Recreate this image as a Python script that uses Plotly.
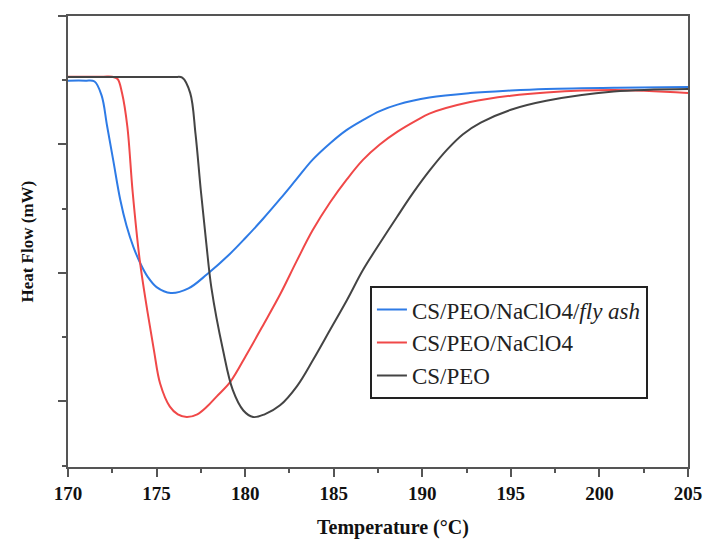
import plotly.graph_objects as go

# DSC curves (temperature in degC, heat flow in arbitrary units)
blue_t = [170.0, 171.0, 171.5, 171.9, 172.2, 172.55, 172.95, 173.3, 173.7, 174.1, 174.5, 175.0,
          175.8, 176.8, 177.85, 179.15, 180.0, 181.0, 182.0, 182.9, 183.8, 184.8, 185.7,
          186.65, 187.6, 188.6, 190.4, 192.7, 195.0, 197.0, 201.0, 205.0]
blue_y = [-0.503, -0.503, -0.51, -0.62, -0.85, -1.12, -1.43, -1.63, -1.80, -1.93, -2.03, -2.11,
          -2.156, -2.12, -2.01, -1.85, -1.73, -1.58, -1.42, -1.27, -1.12, -0.99, -0.89,
          -0.81, -0.74, -0.69, -0.635, -0.60, -0.58, -0.568, -0.558, -0.553]

red_t = [170.0, 172.0, 172.5, 172.8, 173.05, 173.35, 173.65, 174.05, 174.45, 174.85, 175.2,
         175.75, 176.2, 176.7, 177.3, 177.85, 178.4, 179.15, 180.1, 181.0, 182.0, 182.9,
         183.8, 184.8, 185.75, 186.65, 187.6, 188.6, 189.7, 190.4, 192.7, 195.0, 197.0,
         200.8, 205.0]
red_y = [-0.472, -0.472, -0.473, -0.49, -0.60, -0.86, -1.37, -1.90, -2.27, -2.60, -2.86,
         -3.04, -3.10, -3.121, -3.10, -3.04, -2.96, -2.85, -2.63, -2.41, -2.16, -1.91,
         -1.67, -1.45, -1.27, -1.12, -1.00, -0.90, -0.81, -0.76, -0.67, -0.62, -0.595,
         -0.576, -0.599]

black_t = [170.0, 174.0, 176.0, 176.45, 176.9, 177.2, 177.5, 177.8, 178.1, 178.75, 179.3,
           179.9, 180.45, 181.1, 181.97, 182.93, 183.83, 184.79, 185.75, 186.65, 187.61,
           188.57, 189.48, 190.44, 191.4, 192.3, 193.3, 195.0, 197.0, 200.8, 205.0]
black_y = [-0.475, -0.475, -0.475, -0.48, -0.60, -0.92, -1.36, -1.76, -2.12, -2.60, -2.91,
           -3.07, -3.121, -3.10, -3.03, -2.88, -2.677, -2.444, -2.21, -1.977, -1.767,
           -1.564, -1.377, -1.198, -1.04, -0.92, -0.83, -0.73, -0.66, -0.588, -0.568]

names = ["CS/PEO/NaClO4/<i>fly ash</i>", "CS/PEO/NaClO4", "CS/PEO"]
colors = ["#2e7be6", "#f04848", "#444444"]

x_ticks = [170, 175, 180, 185, 190, 195, 200, 205]

SERIF = "Liberation Serif, Times New Roman, serif"
AXIS_COLOR = "#555555"

fig = go.Figure()
for t, y, name, color in zip([blue_t, red_t, black_t], [blue_y, red_y, black_y], names, colors):
    fig.add_trace(
        go.Scatter(
            x=t,
            y=y,
            mode="lines",
            name=name,
            line=dict(color=color, width=2, shape="spline", smoothing=1.0),
        )
    )

fig.update_layout(
    width=707,
    height=552,
    margin=dict(l=68, r=19, t=16, b=85),
    paper_bgcolor="white",
    plot_bgcolor="white",
    font=dict(family=SERIF, color="#111111"),
    showlegend=True,
    legend=dict(
        x=0.487,
        y=0.401,
        xanchor="left",
        yanchor="top",
        bordercolor="#222222",
        borderwidth=2,
        bgcolor="white",
        font=dict(family=SERIF, size=23, color="#222222"),
        itemwidth=30,
    ),
    xaxis=dict(
        range=[170, 205],
        automargin=False,
        tickmode="array",
        tickvals=x_ticks,
        ticktext=[f"<b>{v}</b>" for v in x_ticks],
        ticks="outside",
        ticklen=8,
        tickwidth=2,
        tickcolor=AXIS_COLOR,
        tickfont=dict(family=SERIF, size=19, color="#111111"),
        minor=dict(dtick=2.5, tick0=170, ticks="outside", ticklen=4, tickwidth=2, tickcolor=AXIS_COLOR),
        showline=True,
        linecolor=AXIS_COLOR,
        linewidth=2,
        mirror=True,
        showgrid=False,
        zeroline=False,
    ),
    yaxis=dict(
        range=[-3.51, 0],
        automargin=False,
        tick0=0,
        dtick=1,
        ticks="outside",
        ticklen=8,
        tickwidth=2,
        tickcolor=AXIS_COLOR,
        showticklabels=False,
        minor=dict(dtick=0.5, tick0=0, ticks="outside", ticklen=4, tickwidth=2, tickcolor=AXIS_COLOR),
        showline=True,
        linecolor=AXIS_COLOR,
        linewidth=2,
        mirror=True,
        showgrid=False,
        zeroline=False,
    ),
)

fig.add_annotation(
    text="<b>Temperature (°C)</b>",
    xref="paper", yref="paper",
    x=0.524, y=-0.135,
    xanchor="center", yanchor="middle",
    showarrow=False,
    font=dict(family=SERIF, size=20, color="#111111"),
)
fig.add_annotation(
    text="<b>Heat Flow (mW)</b>",
    xref="paper", yref="paper",
    x=-0.066, y=0.5,
    xanchor="center", yanchor="middle",
    textangle=-90,
    showarrow=False,
    font=dict(family=SERIF, size=17, color="#111111"),
)

# the page body has a default 8px margin; drop it so the figure sits at the window origin
fig.write_html(
    "out.html",
    config={"displayModeBar": False},
    post_script="document.body.style.margin='0';",
)
